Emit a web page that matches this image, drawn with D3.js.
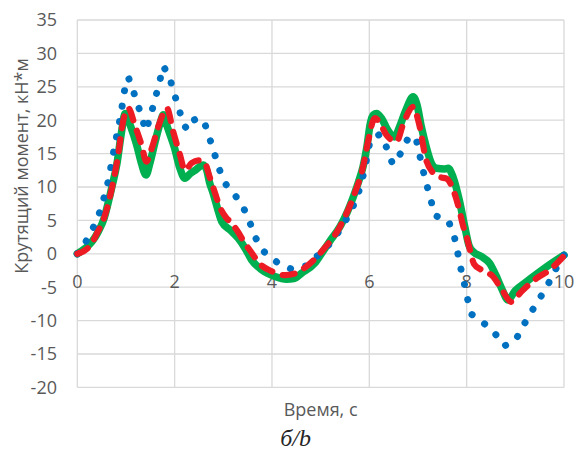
<!DOCTYPE html>
<html>
<head>
<meta charset="utf-8">
<script src="https://cdn.jsdelivr.net/npm/d3@7"></script>
<style>
  body { margin: 0; background: #fff; }
  text { font-family: "Open Sans", sans-serif; fill: #595959; }
</style>
</head>
<body>
<script>
// time, s / torque, kN*m
const greenSeries = [
  [0, 0], [0.16, 0.8], [0.3, 1.8], [0.43, 3.3], [0.55, 5.3], [0.64, 7.8], [0.72, 10.3],
  [0.81, 13.3], [0.91, 18.3], [0.98, 21.0], [1.1, 19.0], [1.22, 16.3], [1.32, 13.5],
  [1.41, 11.8], [1.5, 13.8], [1.6, 16.8], [1.7, 19.5], [1.77, 20.8], [1.85, 19.0],
  [2.0, 15.8], [2.1, 13.0], [2.21, 11.3], [2.32, 12.0], [2.42, 12.5], [2.59, 13.3],
  [2.66, 12.5], [2.72, 10.6], [2.79, 9.1], [2.88, 6.8], [2.97, 4.8], [3.15, 3.5],
  [3.31, 2.3], [3.45, 0.8], [3.58, -0.9], [3.79, -2.4], [4.06, -3.4], [4.3, -3.8],
  [4.45, -3.7], [4.61, -2.9], [4.88, -1.4], [5.05, 0.4], [5.2, 2.0], [5.4, 4.1],
  [5.55, 6.3], [5.67, 8.5], [5.78, 10.8], [5.87, 13.0], [5.95, 16.0], [6.02, 19.5],
  [6.08, 20.8], [6.15, 21.0], [6.25, 20.3], [6.38, 18.5], [6.52, 17.5], [6.62, 19.0],
  [6.75, 21.5], [6.9, 23.5], [6.98, 22.3], [7.07, 19.0], [7.17, 16.0], [7.28, 13.5],
  [7.38, 12.8], [7.55, 12.7], [7.62, 12.8], [7.72, 11.5], [7.85, 8.0], [7.96, 4.1],
  [8.05, 1.2], [8.15, 0.2], [8.3, -0.4], [8.47, -1.4], [8.6, -3.2], [8.72, -5.2],
  [8.85, -6.9], [9.0, -5.5], [9.19, -4.4], [9.5, -2.7], [9.75, -1.4], [10, -0.2]
];

const redSeries = [
  [0, 0], [0.26, 1.2], [0.4, 3.0], [0.57, 5.8], [0.71, 9.8], [0.84, 14.8], [0.94, 19.8],
  [1.05, 21.8], [1.18, 19.3], [1.32, 16.3], [1.42, 13.8], [1.53, 15.8], [1.7, 19.8],
  [1.84, 21.8], [1.97, 18.3], [2.11, 14.8], [2.21, 12.5], [2.35, 13.6], [2.5, 14.0],
  [2.62, 13.6], [2.72, 11.5], [2.83, 9.1], [2.93, 7.0], [3.05, 5.5], [3.17, 4.6],
  [3.3, 3.3], [3.44, 1.6], [3.55, 0.5], [3.75, -1.5], [3.99, -2.6], [4.27, -3.2],
  [4.45, -3.0], [4.61, -2.4], [4.85, -1.0], [5.05, 0.6], [5.4, 4.1], [5.67, 8.5],
  [5.87, 13.0], [5.98, 17.0], [6.11, 20.3], [6.2, 19.8], [6.35, 17.8], [6.56, 16.8],
  [6.7, 19.5], [6.9, 22.0], [7.02, 19.5], [7.17, 14.0], [7.3, 12.2], [7.45, 11.5],
  [7.6, 11.2], [7.7, 10.0], [7.83, 7.1], [7.93, 4.1], [8.0, 2.5], [8.08, 0.2],
  [8.15, -1.5], [8.3, -2.4], [8.54, -3.4], [8.71, -5.2], [8.92, -7.2], [9.12, -5.7],
  [9.43, -3.7], [9.71, -2.4], [10, -0.3]
];

const blueSeries = [
  [0, 0], [0.1, 0.8], [0.19, 2.0], [0.34, 4.1], [0.47, 6.4], [0.56, 8.7], [0.64, 11.0],
  [0.76, 15.8], [0.89, 20.6], [0.99, 25.4], [1.05, 26.4], [1.1, 25.4], [1.21, 23.1],
  [1.31, 20.8], [1.41, 18.4], [1.51, 20.8], [1.6, 23.2], [1.68, 25.5], [1.77, 28.1],
  [1.9, 26.3], [1.99, 24.0], [2.09, 21.7], [2.18, 19.3], [2.27, 18.6], [2.36, 19.9],
  [2.48, 20.3], [2.6, 19.9], [2.71, 17.5], [2.81, 15.2], [2.91, 12.8], [3.03, 10.6],
  [3.24, 8.8], [3.42, 6.8], [3.55, 4.6], [3.67, 2.3], [3.84, 0.3], [4.11, -1.3],
  [4.4, -2.3], [4.71, -1.8], [4.95, -0.2], [5.19, 1.5], [5.4, 3.6], [5.57, 5.7],
  [5.71, 7.8], [5.82, 10.1], [5.9, 12.5], [5.96, 14.8], [6.02, 17.1], [6.22, 17.9],
  [6.37, 15.7], [6.48, 13.4], [6.64, 15.0], [6.79, 17.2], [6.95, 17.6], [7.02, 15.3],
  [7.09, 12.9], [7.17, 10.6], [7.26, 8.2], [7.34, 5.8], [7.48, 5.3], [7.62, 5.0],
  [7.74, 2.8], [7.81, 0.4], [7.87, -1.9], [7.95, -4.4], [8.02, -6.8], [8.11, -9.1],
  [8.34, -10.3], [8.58, -11.9], [8.77, -13.8], [9.0, -13.0], [9.16, -10.8], [9.32, -8.8],
  [9.5, -6.7], [9.67, -4.6], [9.82, -2.4], [10, -0.2]
];

const xTicks = [0, 2, 4, 6, 8, 10];
const yTicks = [-20, -15, -10, -5, 0, 5, 10, 15, 20, 25, 30, 35];

const xTitle = 'Время, с';
const yTitle = 'Крутящий момент, кН*м';
const caption = 'б/b';

const W = 577, H = 454;
const plot = { left: 77.3, right: 564, top: 20, bottom: 387.4 };

const svg = d3.select('body')
  .append('svg')
  .attr('width', W)
  .attr('height', H);

const x = d3.scaleLinear().domain([0, 10]).range([plot.left, plot.right]);
const y = d3.scaleLinear().domain([-20, 35]).range([plot.bottom, plot.top]);

// gridlines
svg.append('g')
  .selectAll('line')
  .data(yTicks)
  .enter()
  .append('line')
  .attr('x1', plot.left)
  .attr('x2', plot.right)
  .attr('y1', d => y(d))
  .attr('y2', d => y(d))
  .attr('stroke', '#d9d9d9')
  .attr('stroke-width', 1.3);

svg.append('g')
  .selectAll('line')
  .data(xTicks)
  .enter()
  .append('line')
  .attr('x1', d => x(d))
  .attr('x2', d => x(d))
  .attr('y1', plot.top)
  .attr('y2', plot.bottom)
  .attr('stroke', '#d9d9d9')
  .attr('stroke-width', 1.3);

// tick labels
svg.append('g')
  .selectAll('text')
  .data(yTicks)
  .enter()
  .append('text')
  .attr('x', 57)
  .attr('y', d => y(d))
  .attr('dy', '0.35em')
  .attr('text-anchor', 'end')
  .style('font-size', '18px')
  .text(d => d);

svg.append('g')
  .selectAll('text')
  .data(xTicks)
  .enter()
  .append('text')
  .attr('x', d => x(d))
  .attr('y', y(0) + 28)
  .attr('dy', '0.35em')
  .attr('text-anchor', 'middle')
  .style('font-size', '18px')
  .text(d => d);

// series
const smooth = d3.line()
  .x(d => x(d[0]))
  .y(d => y(d[1]))
  .curve(d3.curveMonotoneX);

const straight = d3.line()
  .x(d => x(d[0]))
  .y(d => y(d[1]));

svg.append('path')
  .datum(greenSeries)
  .attr('fill', 'none')
  .attr('stroke', '#00b050')
  .attr('stroke-width', 7.5)
  .attr('stroke-linejoin', 'round')
  .attr('stroke-linecap', 'round')
  .attr('d', smooth);

svg.append('path')
  .datum(blueSeries)
  .attr('fill', 'none')
  .attr('stroke', '#0070c0')
  .attr('stroke-width', 7)
  .attr('stroke-linecap', 'round')
  .attr('stroke-dasharray', '0.1 15.5')
  .attr('d', straight);

svg.append('path')
  .datum(redSeries)
  .attr('fill', 'none')
  .attr('stroke', '#ed1c24')
  .attr('stroke-width', 6.2)
  .attr('stroke-linecap', 'round')
  .attr('stroke-linejoin', 'round')
  .attr('stroke-dasharray', '12 11')
  .attr('d', smooth);

// titles
svg.append('text')
  .attr('x', (plot.left + plot.right) / 2)
  .attr('y', 410)
  .attr('dy', '0.35em')
  .attr('text-anchor', 'middle')
  .style('font-size', '18px')
  .text(xTitle);

svg.append('text')
  .attr('transform', 'translate(22,166) rotate(-90)')
  .attr('dy', '0.35em')
  .attr('text-anchor', 'middle')
  .style('font-size', '18px')
  .text(yTitle);

svg.append('text')
  .attr('x', (plot.left + plot.right) / 2 - 25)
  .attr('y', 446)
  .attr('text-anchor', 'middle')
  .style('font-family', '"Liberation Serif", serif')
  .style('font-style', 'italic')
  .style('font-size', '24px')
  .style('fill', '#262626')
  .text(caption);
</script>
</body>
</html>
